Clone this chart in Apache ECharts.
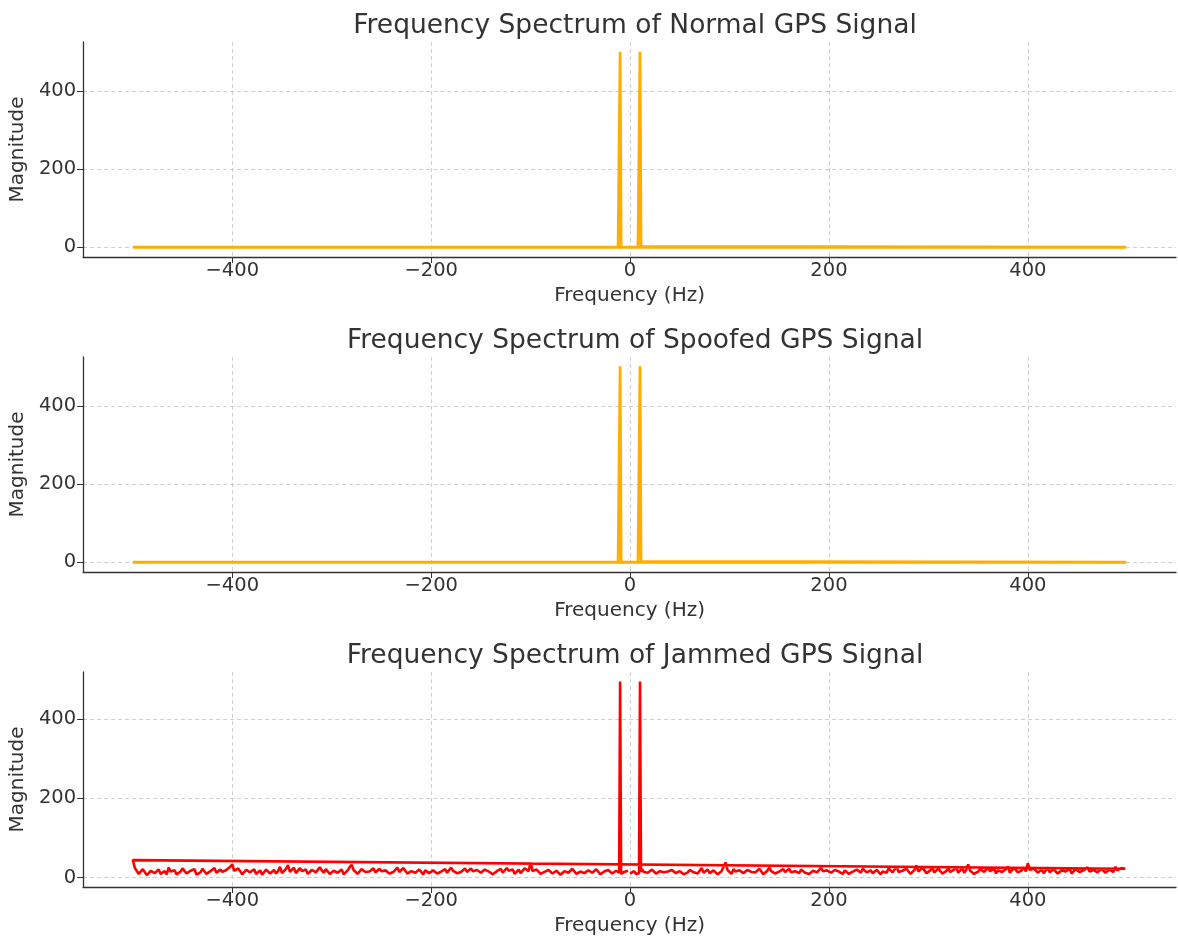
<!DOCTYPE html>
<html>
<head>
<meta charset="utf-8">
<script src="https://cdn.jsdelivr.net/npm/echarts@6/dist/echarts.min.js"></script>
<style>
  html, body { margin: 0; padding: 0; background: #fff; }
  #chart { width: 1178px; height: 941px; }
</style>
</head>
<body>
<div id="chart"></div>
<script>
  // titles of the three panels
  const panelTitles = [
    'Frequency Spectrum of Normal GPS Signal',
    'Frequency Spectrum of Spoofed GPS Signal',
    'Frequency Spectrum of Jammed GPS Signal'
  ];
  const xTicks = [-400, -200, 0, 200, 400];
  const yTicks = [0, 200, 400];
  const yRanges = [[-25, 525], [-25, 525], [-24, 519]];

  // normal / spoofed: two tones at +-10 Hz, [freq, magnitude]
  const normalPoints = [
    [-500, 0], [-12, 0.5], [-11, 2], [-10, 500], [-9, 2], [-8, 0.5],
    [8, 0.5], [9, 2], [10, 500], [11, 2], [12, 0.5], [499, 0]
  ];
  const spoofedPoints = [
    [-500, 0], [-12, 0.5], [-11, 2], [-10, 501], [-9, 2], [-8, 0.5],
    [8, 0.5], [9, 2], [10, 501], [11, 2], [12, 0.5], [499, 0]
  ];

  // jammed: noise floor read every 2 Hz from -500 Hz, the two tones replace it at +-10 Hz
  const noiseStart = -500;
  const noiseStep = 2;
  const jammedNoise = [
    44, 24, 20, 9, 12, 21, 18, 6, 10, 17, 22, 11, 14, 20, 9, 13, 16, 8, 25, 15, 12, 18, 8, 13, 15, 23, 19, 10, 11, 17, 14, 21, 7, 12, 13, 22, 18, 9, 10, 16, 15, 24, 12, 7, 20, 14, 9, 19, 16, 27,
    33, 17, 14, 23, 20, 8, 11, 19, 24, 13, 16, 21, 9, 14, 18, 7, 12, 20, 22, 10, 15, 19, 10, 16, 27, 11, 13, 22, 31, 14, 17, 25, 11, 8, 24, 16, 15, 20, 9, 13, 19, 24, 13, 10, 26, 18, 12, 21, 18, 9,
    10, 17, 21, 12, 14, 20, 8, 13, 18, 26, 32, 19, 16, 9, 12, 21, 25, 14, 9, 15, 17, 23, 13, 8, 22, 16, 11, 18, 15, 10, 7, 14, 19, 25, 14, 9, 24, 17, 10, 13, 16, 21, 12, 7, 20, 15, 8, 18, 15, 11,
    13, 18, 22, 10, 9, 15, 17, 21, 12, 8, 25, 17, 15, 11, 8, 14, 19, 23, 14, 9, 23, 16, 11, 19, 16, 12, 10, 20, 21, 15, 13, 8, 7, 16, 18, 22, 12, 9, 24, 17, 15, 20, 9, 14, 20, 11, 14, 23, 27, 16,
    38, 16, 12, 20, 18, 9, 9, 14, 15, 19, 22, 10, 11, 17, 14, 7, 8, 16, 19, 12, 13, 22, 21, 9, 10, 15, 16, 11, 7, 18, 17, 12, 12, 21, 20, 8, 9, 15, 14, 19, 18, 10, 11, 17, 15, 7, 8, 14, 13, 17,
    10, 13, 16, 9, 12, 18, 21, 14, 9, 12, 15, 20, 18, 10, 11, 16, 20, 13, 8, 15, 14, 19, 22, 11, 12, 16, 17, 8, 9, 13, 19, 22, 13, 9, 10, 17, 24, 12, 15, 20, 11, 8, 18, 14, 8, 12, 16, 21, 38, 19,
    14, 9, 21, 15, 10, 18, 17, 11, 12, 19, 23, 14, 9, 13, 16, 22, 19, 8, 11, 17, 25, 16, 13, 10, 8, 15, 18, 21, 14, 9, 22, 13, 10, 16, 15, 11, 20, 24, 12, 8, 9, 14, 17, 21, 13, 10, 24, 16, 11, 18,
    16, 12, 10, 19, 22, 15, 13, 9, 18, 21, 9, 14, 15, 11, 20, 16, 12, 22, 26, 13, 14, 18, 11, 7, 19, 23, 8, 15, 17, 12, 23, 18, 13, 20, 28, 14, 10, 17, 16, 22, 21, 9, 12, 19, 30, 15, 14, 25, 18, 11,
    11, 18, 24, 13, 15, 22, 19, 10, 9, 16, 22, 14, 13, 20, 27, 12, 16, 23, 12, 19, 33, 17, 18, 9, 10, 15, 21, 26, 14, 11, 25, 16, 17, 22, 11, 18, 23, 14, 13, 21, 28, 12, 15, 24, 20, 13, 12, 18, 26, 15,
    36, 19, 14, 23, 22, 12, 17, 20, 11, 16, 25, 13, 15, 21, 19, 10, 12, 18, 23, 15, 16, 22, 10, 14, 21, 17, 14, 11, 18, 23, 26, 15, 12, 19, 20, 13, 15, 22, 24, 12, 13, 20, 19, 14, 27, 18, 16, 24, 21, 22
  ];
  const jammedTones = { '-10': 495, '10': 495 };
  // noise read at the bins right beside the tones
  const jammedToneSides = [[-11, 12], [-9, 9], [9, 11], [11, 14]];

  // plot in FFT output order (0..+, then -..), like the original line plot
  function fftOrder(points) {
    const sorted = points.slice().sort((a, b) => a[0] - b[0]);
    return sorted.filter(p => p[0] >= 0).concat(sorted.filter(p => p[0] < 0));
  }
  const jammedPoints = jammedNoise.map((v, i) => {
    const f = noiseStart + i * noiseStep;
    return [f, jammedTones[f] !== undefined ? jammedTones[f] : v];
  }).concat(jammedToneSides);

  const font = 'DejaVu Sans';
  const textColor = '#333';
  const gridTops = [42, 357, 672];
  const panelData = [fftOrder(normalPoints), fftOrder(spoofedPoints), fftOrder(jammedPoints)];
  const panelColors = ['#ffad00', '#ffad00', '#ff0000'];
  const lineWidths = [2.8, 2.8, 2.6];
  const minusLabel = v => String(v).replace('-', '\u2212');

  const grids = [], xAxes = [], yAxes = [], series = [], titles = [];
  for (let i = 0; i < 3; i++) {
    grids.push({ left: 82, top: gridTops[i], width: 1094, height: 215 });
    titles.push({
      text: panelTitles[i],
      left: 630, top: gridTops[i] - 34,
      textAlign: 'center',
      textStyle: { fontFamily: font, fontSize: 26.5, fontWeight: 'normal', color: textColor }
    });
    xAxes.push({
      type: 'value', gridIndex: i,
      min: -550, max: 549,
      name: 'Frequency (Hz)', nameLocation: 'middle', nameGap: 29,
      nameTextStyle: { fontFamily: font, fontSize: 20, color: textColor },
      axisLine: { onZero: false, lineStyle: { color: '#333', width: 1.3 } },
      axisTick: { show: true, length: 6, lineStyle: { color: '#333' }, customValues: xTicks },
      axisLabel: { fontFamily: font, fontSize: 19.5, color: textColor, margin: 4, customValues: xTicks, formatter: minusLabel },
      splitLine: { show: true, customValues: xTicks, lineStyle: { color: '#cfcfcf', type: [4, 3], width: 1 } }
    });
    yAxes.push({
      type: 'value', gridIndex: i,
      min: yRanges[i][0], max: yRanges[i][1],
      name: 'Magnitude', nameLocation: 'middle', nameGap: 49,
      nameTextStyle: { fontFamily: font, fontSize: 20, color: textColor },
      axisLine: { show: true, onZero: false, lineStyle: { color: '#333', width: 1.3 } },
      axisTick: { show: true, length: 6, lineStyle: { color: '#333' }, customValues: yTicks },
      axisLabel: { fontFamily: font, fontSize: 19.5, color: textColor, margin: 7, customValues: yTicks },
      splitLine: { show: true, customValues: yTicks, lineStyle: { color: '#cfcfcf', type: [4, 3], width: 1 } }
    });
    series.push({
      type: 'line', xAxisIndex: i, yAxisIndex: i,
      data: panelData[i],
      showSymbol: false,
      lineStyle: { color: panelColors[i], width: lineWidths[i] },
      itemStyle: { color: panelColors[i] }
    });
  }

  const chartObj = echarts.init(document.getElementById('chart'));
  chartObj.setOption({
    animation: false,
    title: titles,
    grid: grids,
    xAxis: xAxes,
    yAxis: yAxes,
    series: series
  });
</script>
</body>
</html>
